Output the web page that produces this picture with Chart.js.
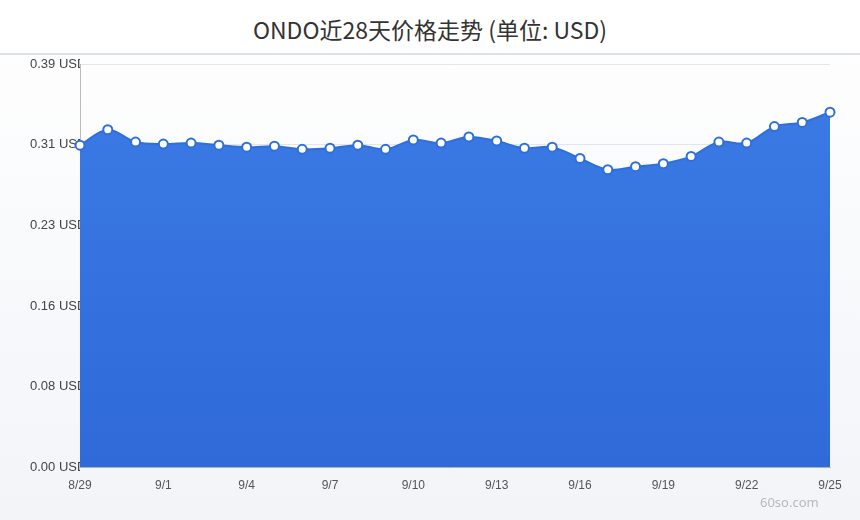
<!DOCTYPE html>
<html><head><meta charset="utf-8">
<script src="https://cdn.jsdelivr.net/npm/chart.js@4"></script>
<style>
html,body{margin:0;padding:0;width:860px;height:520px;overflow:hidden;background:linear-gradient(#ffffff,#f2f4f8);font-family:"Noto Sans","Noto Sans CJK SC",sans-serif;}
#title{position:absolute;left:0;top:0;width:860px;height:53px;line-height:58px;text-align:center;font-size:23px;color:#333;font-family:"Noto Sans CJK SC","Noto Sans",sans-serif;border-bottom:2px solid #dde1e8;background:#fff;}
#wrap{position:absolute;left:0;top:56px;width:860px;height:440px;}
#wm{position:absolute;left:760px;top:493px;font-size:13px;color:#b5b9c0;}
</style></head><body>
<div id="title">ONDO近28天价格走势 (单位: USD)</div>
<div id="wrap"><canvas id="c"></canvas></div>
<div id="wm">60so.com</div>
<script>
const categories=["8/29","8/30","8/31","9/1","9/2","9/3","9/4","9/5","9/6","9/7","9/8","9/9","9/10","9/11","9/12","9/13","9/14","9/15","9/16","9/17","9/18","9/19","9/20","9/21","9/22","9/23","9/24","9/25"];
const prices=[0.3116,0.3265,0.3146,0.3126,0.3136,0.3116,0.3096,0.3106,0.3076,0.3086,0.3116,0.3076,0.3166,0.3136,0.3195,0.3156,0.3086,0.3096,0.2987,0.2878,0.2908,0.2937,0.3007,0.3146,0.3136,0.3295,0.3335,0.3434];
const ctx=document.getElementById('c');
new Chart(ctx,{type:'line',data:{labels:categories,datasets:[{data:prices,borderColor:'#2f6fdc',borderWidth:2,tension:0.35,fill:'origin',
backgroundColor:(c)=>{const a=c.chart.chartArea;if(!a)return '#3a78e0';const g=c.chart.ctx.createLinearGradient(0,a.top,0,a.bottom);g.addColorStop(0,'#3c7be6');g.addColorStop(1,'#2f6ad8');return g;},
pointRadius:4.5,pointBackgroundColor:'#ffffff',pointBorderColor:'#2f6fdc',pointBorderWidth:2}]},
options:{responsive:true,maintainAspectRatio:false,animation:false,
layout:{padding:{left:30,right:30,top:8,bottom:0}},
plugins:{legend:{display:false},tooltip:{enabled:false}},
scales:{x:{offset:false,grid:{display:false},border:{color:'#bbb'},ticks:{autoSkip:false,maxRotation:0,color:'#555',font:{size:12},callback:(v,i)=>i%3===0?categories[i]:''}},
y:{min:0,max:0.39,afterFit:s=>{s.width=50;},border:{color:'#bbb'},grid:{color:'#e3e5ea',drawTicks:false},
ticks:{stepSize:0.078,crossAlign:'far',padding:0,color:'#444',font:{size:13},callback:v=>v.toFixed(2)+' USD'}}}}});
</script></body></html>
